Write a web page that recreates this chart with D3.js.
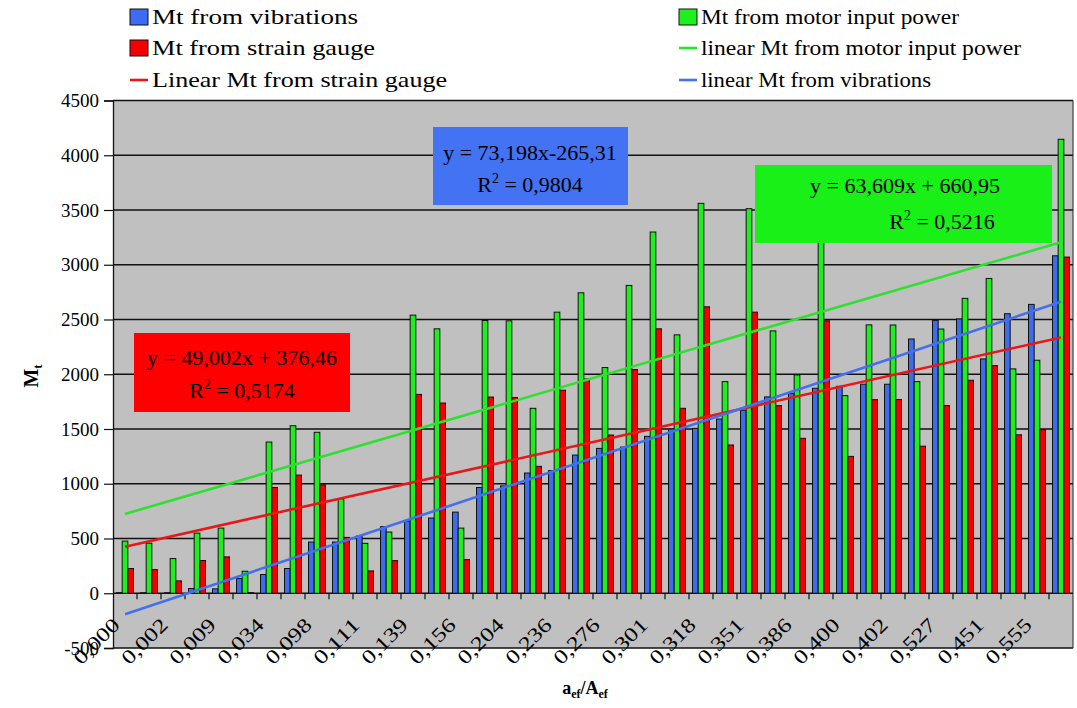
<!DOCTYPE html>
<html><head><meta charset="utf-8">
<script src="https://cdn.jsdelivr.net/npm/d3@7"></script>
<style>
body{margin:0;background:#fff;}
svg{display:block;}
text{font-family:"Liberation Serif","Times New Roman",serif;fill:#000;}
</style>
</head><body>
<svg id="chart" width="1077" height="708"></svg>
<script>
// ---- data ----
const categoryLabels = ["0,000","","0,002","","0,009","","0,034","","0,098","",
  "0,111","","0,139","","0,156","","0,204","","0,236","",
  "0,276","","0,301","","0,318","","0,351","","0,386","",
  "0,400","","0,402","","0,527","","0,451","","0,555",""];
const seriesNames = ["Mt from vibrations","Mt from motor input power","Mt from strain gauge"];
const seriesColors = ["#3d6bf2","#1ef01e","#f50000"];
const vibrations = [5,5,5,43,40,134,171,226,468,468,522,608,660,687,741,966,980,1098,1120,1262,
  1323,1335,1433,1500,1506,1591,1671,1793,1823,1872,1890,1909,1909,2322,2492,2505,2140,2553,2638,3082];
const motorPower = [476,457,317,549,595,201,1381,1530,1470,863,456,559,2540,2415,595,2491,2488,1689,2567,2744,
  2061,2811,3299,2360,3561,1933,3512,2396,1994,3390,1805,2451,2450,1933,2413,2693,2875,2049,2128,4146];
const strainGauge = [226,216,113,299,332,6,966,1079,990,510,204,298,1816,1737,307,1792,1787,1159,1854,1957,
  1445,2043,2415,1689,2616,1354,2567,1713,1415,2488,1250,1768,1769,1343,1714,1945,2079,1447,1495,3070];
const yTicks = [-500,0,500,1000,1500,2000,2500,3000,3500,4000,4500];
// linear trendlines (x = category number 1..40), as printed on the chart
const trendNames = ["Linear Mt from strain gauge","linear Mt from motor input power","linear Mt from vibrations"];
const trendColors = ["#e81818","#2fe02f","#4470ee"];
const trendSlopes = [49.002, 63.609, 73.198];
const trendIntercepts = [376.46, 660.95, -265.31];
const trendEquations = ["y = 49,002x + 376,46","y = 63,609x + 660,95","y = 73,198x-265,31"];
const trendR2 = ["0,5174","0,5216","0,9804"];

// ---- layout ----
const svg = d3.select("#chart");
const L = 113, R = 1073, T = 100.5, B = 648;
const N = categoryLabels.length;
const x0 = d3.scaleBand().domain(d3.range(N)).range([L, R]).padding(0);
const x1 = d3.scaleBand().domain([0,1,2]).range([0, x0.bandwidth()]).paddingOuter(0.62).paddingInner(0);
const y = d3.scaleLinear().domain([-500, 4500]).range([B, T]);
const series = [vibrations, motorPower, strainGauge];

svg.append("rect").attr("width",1077).attr("height",708).attr("fill","#fff");
svg.append("rect").attr("x",L).attr("y",T).attr("width",R-L).attr("height",B-T).attr("fill","#c0c0c0");

// gridlines
svg.append("g").selectAll("line").data(yTicks).join("line")
  .attr("x1",L).attr("x2",R).attr("y1",d=>y(d)).attr("y2",d=>y(d))
  .attr("stroke","#111").attr("stroke-width",1.3);
// right border
svg.append("line").attr("x1",R).attr("x2",R).attr("y1",T).attr("y2",B).attr("stroke","#222").attr("stroke-width",1);

// bars
const groups = svg.append("g").selectAll("g").data(d3.range(N)).join("g")
  .attr("transform", i => `translate(${x0(i)},0)`);
groups.selectAll("rect").data(i => series.map((s,k)=>({k, v:s[i]}))).join("rect")
  .attr("x", d => x1(d.k)).attr("width", x1.bandwidth())
  .attr("y", d => y(Math.max(0,d.v))).attr("height", d => Math.abs(y(0)-y(d.v)))
  .attr("fill", d => seriesColors[d.k]).attr("stroke","#111").attr("stroke-width",1);

// x tick marks at category boundaries
svg.append("g").selectAll("line").data(d3.range(1,N)).join("line")
  .attr("x1", i => x0(i)).attr("x2", i => x0(i)).attr("y1", y(0)).attr("y2", y(0)+6)
  .attr("stroke","#111").attr("stroke-width",1.2);

// trendlines
const cx = i => x0(i) + x0.bandwidth()/2;
trendSlopes.forEach((m,k) => {
  const pts = [1, N].map(n => [cx(n-1), y(m*n + trendIntercepts[k])]);
  svg.append("path").attr("d", d3.line()(pts)).attr("stroke", trendColors[k])
    .attr("stroke-width",2.6).attr("fill","none");
});

// y axis
const yAxis = svg.append("g").attr("transform",`translate(${L},0)`)
  .call(d3.axisLeft(y).tickValues(yTicks).tickSize(9).tickPadding(5).tickFormat(d => String(d)));
yAxis.select(".domain").attr("stroke","#111").attr("stroke-width",1.3);
yAxis.selectAll(".tick line").attr("stroke","#111").attr("stroke-width",1.2);
yAxis.selectAll("text").attr("font-family",'"Liberation Serif",serif').attr("font-size",19).attr("fill","#000");

// x labels
svg.append("g").selectAll("text").data(d3.range(N).filter(i => categoryLabels[i] !== "")).join("text")
  .attr("transform", i => `translate(${cx(i)-9},${y(0)+28}) rotate(-45)`)
  .attr("text-anchor","end").attr("dominant-baseline","central")
  .attr("font-size",20).attr("textLength",56).attr("lengthAdjust","spacingAndGlyphs")
  .text(i => categoryLabels[i]);

// equation boxes
const boxes = [
  {k:0, x:134, y:333, w:216, h:79, fill:"#ff0000", l1:[242,365], l2:[242,398]},
  {k:1, x:755, y:165, w:297, h:78, fill:"#18f018", l1:[905,193], l2:[942,229]},
  {k:2, x:433, y:127, w:195, h:78, fill:"#4372f2", l1:[530,160], l2:[530,192]}
];
boxes.forEach(b => {
  svg.append("rect").attr("x",b.x).attr("y",b.y).attr("width",b.w).attr("height",b.h).attr("fill",b.fill);
  svg.append("text").attr("x",b.l1[0]).attr("y",b.l1[1]).attr("text-anchor","middle")
    .attr("font-size",22).text(trendEquations[b.k]);
  const t = svg.append("text").attr("x",b.l2[0]).attr("y",b.l2[1]).attr("text-anchor","middle").attr("font-size",22);
  t.append("tspan").text("R");
  t.append("tspan").attr("font-size",14).attr("dy",-9).text("2");
  t.append("tspan").attr("dy",9).text(" = " + trendR2[b.k]);
});

// axis titles
const yt = svg.append("text").attr("transform","translate(38,376) rotate(-90)")
  .attr("text-anchor","middle").attr("font-size",20).attr("font-weight","bold");
yt.append("tspan").text("M");
yt.append("tspan").attr("font-size",13).attr("dy",4).text("t");

const xt = svg.append("text").attr("x",585).attr("y",694).attr("text-anchor","middle")
  .attr("font-size",18).attr("font-weight","bold");
xt.append("tspan").text("a");
xt.append("tspan").attr("font-size",12).attr("dy",4).text("ef");
xt.append("tspan").attr("dy",-4).text("/A");
xt.append("tspan").attr("font-size",12).attr("dy",4).text("ef");

// legend
const legend = [
  {type:"rect", color:seriesColors[0], label:seriesNames[0], x:130, y:17, len:206},
  {type:"rect", color:seriesColors[2], label:seriesNames[2], x:130, y:48, len:223},
  {type:"line", color:trendColors[0], label:trendNames[0], x:130, y:80, len:295},
  {type:"rect", color:seriesColors[1], label:seriesNames[1], x:679, y:17, len:258},
  {type:"line", color:trendColors[1], label:trendNames[1], x:679, y:48, len:320},
  {type:"line", color:trendColors[2], label:trendNames[2], x:679, y:80, len:230}
];
const lg = svg.append("g").selectAll("g").data(legend).join("g");
lg.filter(d=>d.type==="rect").append("rect")
  .attr("x",d=>d.x).attr("y",d=>d.y-8).attr("width",18).attr("height",16)
  .attr("fill",d=>d.color).attr("stroke","#111").attr("stroke-width",1);
lg.filter(d=>d.type==="line").append("line")
  .attr("x1",d=>d.x).attr("x2",d=>d.x+18).attr("y1",d=>d.y).attr("y2",d=>d.y)
  .attr("stroke",d=>d.color).attr("stroke-width",2.6);
lg.append("text").attr("x",d=>d.x+22).attr("y",d=>d.y+7).attr("font-size",21)
  .attr("textLength",d=>d.len).attr("lengthAdjust","spacingAndGlyphs").text(d=>d.label);
</script>
</body></html>
